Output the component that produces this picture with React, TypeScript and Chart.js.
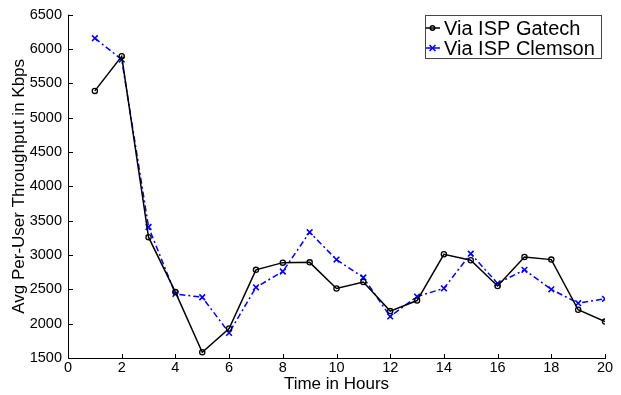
import React, { useEffect, useRef } from "react";
import { Chart, registerables } from "chart.js";

Chart.register(...registerables);

const hours = [1, 2, 3, 4, 5, 6, 7, 8, 9, 10, 11, 12, 13, 14, 15, 16, 17, 18, 19, 20];
const gatech = [5390, 5894, 3260, 2460, 1583, 1929, 2784, 2889, 2893, 2512, 2607, 2183, 2337, 3010, 2924, 2549, 2971, 2933, 2203, 2030];
const clemson = [6158, 5846, 3408, 2433, 2385, 1866, 2529, 2760, 3332, 2933, 2673, 2106, 2395, 2515, 3019, 2587, 2784, 2500, 2298, 2362];
const seriesLabels = ["Via ISP Gatech", "Via ISP Clemson"];
const xTitle = "Time in Hours";
const yTitle = "Avg Per-User Throughput in Kbps";

const FONT = "'Liberation Sans', Arial, Helvetica, sans-serif";

const axesPlugin = {
  id: "matlabAxes",
  afterDatasetsDraw(chart: any) {
    const ctx = chart.ctx;
    const { left, right, top, bottom } = chart.chartArea;
    const xs = chart.scales.x;
    const ys = chart.scales.y;
    ctx.save();
    ctx.strokeStyle = "#000";
    ctx.lineWidth = 1;
    ctx.beginPath();
    ctx.moveTo(left + 0.5, top);
    ctx.lineTo(left + 0.5, bottom + 0.5);
    ctx.lineTo(right + 1, bottom + 0.5);
    for (const t of xs.ticks) {
      const px = Math.round(xs.getPixelForValue(t.value)) + 0.5;
      ctx.moveTo(px, bottom + 0.5);
      ctx.lineTo(px, bottom - 4);
    }
    for (const t of ys.ticks) {
      const py = Math.round(ys.getPixelForValue(t.value)) + 0.5;
      ctx.moveTo(left + 0.5, py);
      ctx.lineTo(left + 5, py);
    }
    ctx.stroke();
    ctx.restore();
  },
};

const legendPlugin = {
  id: "boxLegend",
  afterDraw(chart: any) {
    const ctx = chart.ctx;
    const bx = 425, by = 15, bw = 176, bh = 43;
    ctx.save();
    ctx.fillStyle = "#fff";
    ctx.fillRect(bx, by, bw, bh);
    ctx.strokeStyle = "#444";
    ctx.lineWidth = 1;
    ctx.strokeRect(bx + 0.5, by + 0.5, bw, bh);
    ctx.font = `20px ${FONT}`;
    ctx.textBaseline = "middle";
    ctx.textAlign = "left";
    chart.data.datasets.forEach((ds: any, i: number) => {
      const cy = by + 13 + i * 20;
      ctx.strokeStyle = ds.borderColor;
      ctx.lineWidth = 1.5;
      ctx.setLineDash([]);
      ctx.beginPath();
      ctx.moveTo(bx + 1, cy);
      ctx.lineTo(bx + 15, cy);
      ctx.stroke();
      if (ds.pointStyle === "circle") {
        ctx.beginPath();
        ctx.arc(bx + 7.5, cy, 2.2, 0, Math.PI * 2);
        ctx.stroke();
      } else {
        const r = 3;
        ctx.beginPath();
        ctx.moveTo(bx + 7.5 - r, cy - r);
        ctx.lineTo(bx + 7.5 + r, cy + r);
        ctx.moveTo(bx + 7.5 - r, cy + r);
        ctx.lineTo(bx + 7.5 + r, cy - r);
        ctx.stroke();
      }
      ctx.fillStyle = "#000";
      ctx.fillText(ds.label, bx + 19, cy + 1);
    });
    ctx.restore();
  },
};

export default function App() {
  const ref = useRef<HTMLCanvasElement>(null);
  useEffect(() => {
    const canvas = ref.current;
    if (!canvas) return;
    const chart = new Chart(canvas, {
      type: "line",
      data: {
        datasets: [
          {
            label: seriesLabels[0],
            data: hours.map((h, i) => ({ x: h, y: gatech[i] })),
            borderColor: "#000000",
            backgroundColor: "rgba(0,0,0,0)",
            borderWidth: 1.5,
            pointStyle: "circle",
            pointRadius: 2.6,
            pointBorderWidth: 1.3,
            pointBackgroundColor: "rgba(0,0,0,0)",
            pointBorderColor: "#000000",
            tension: 0,
          },
          {
            label: seriesLabels[1],
            data: hours.map((h, i) => ({ x: h, y: clemson[i] })),
            borderColor: "#0000ff",
            backgroundColor: "rgba(0,0,0,0)",
            borderWidth: 1.5,
            borderDash: [6, 3, 2, 3],
            pointStyle: "crossRot",
            pointRadius: 4,
            pointBorderWidth: 1.6,
            pointBorderColor: "#0000ff",
            tension: 0,
          },
        ],
      },
      options: {
        animation: false,
        responsive: false,
        maintainAspectRatio: false,
        devicePixelRatio: 1,
        layout: { padding: { left: 0, right: 16, top: 13, bottom: 0 } },
        plugins: {
          legend: { display: false },
          tooltip: { enabled: false },
        },
        scales: {
          x: {
            type: "linear",
            min: 0,
            max: 20,
            grid: { display: false, drawTicks: false },
            border: { display: false },
            ticks: { stepSize: 2, padding: 1, color: "#000", font: { size: 14.5, family: FONT }, maxRotation: 0, callback: (v: any) => String(v) },
            title: { display: true, text: xTitle, color: "#000", font: { size: 17, family: FONT }, padding: { top: 0, bottom: 0 } },
            afterFit: (s: any) => { s.height = 37; },
          },
          y: {
            type: "linear",
            min: 1500,
            max: 6500,
            grid: { display: false, drawTicks: false },
            border: { display: false },
            ticks: { stepSize: 500, padding: 6, color: "#000", font: { size: 14.5, family: FONT }, callback: (v: any) => String(v) },
            title: { display: true, text: yTitle, color: "#000", font: { size: 17, family: FONT }, padding: { top: 9, bottom: 0 } },
            afterFit: (s: any) => { s.width = 68; },
          },
        },
      },
      plugins: [axesPlugin, legendPlugin],
    } as any);
    return () => chart.destroy();
  }, []);
  return (
    <div style={{ position: "fixed", left: 0, top: 0, width: 621, height: 395, background: "#fff" }}>
      <canvas ref={ref} width={621} height={395} style={{ display: "block" }} />
    </div>
  );
}
